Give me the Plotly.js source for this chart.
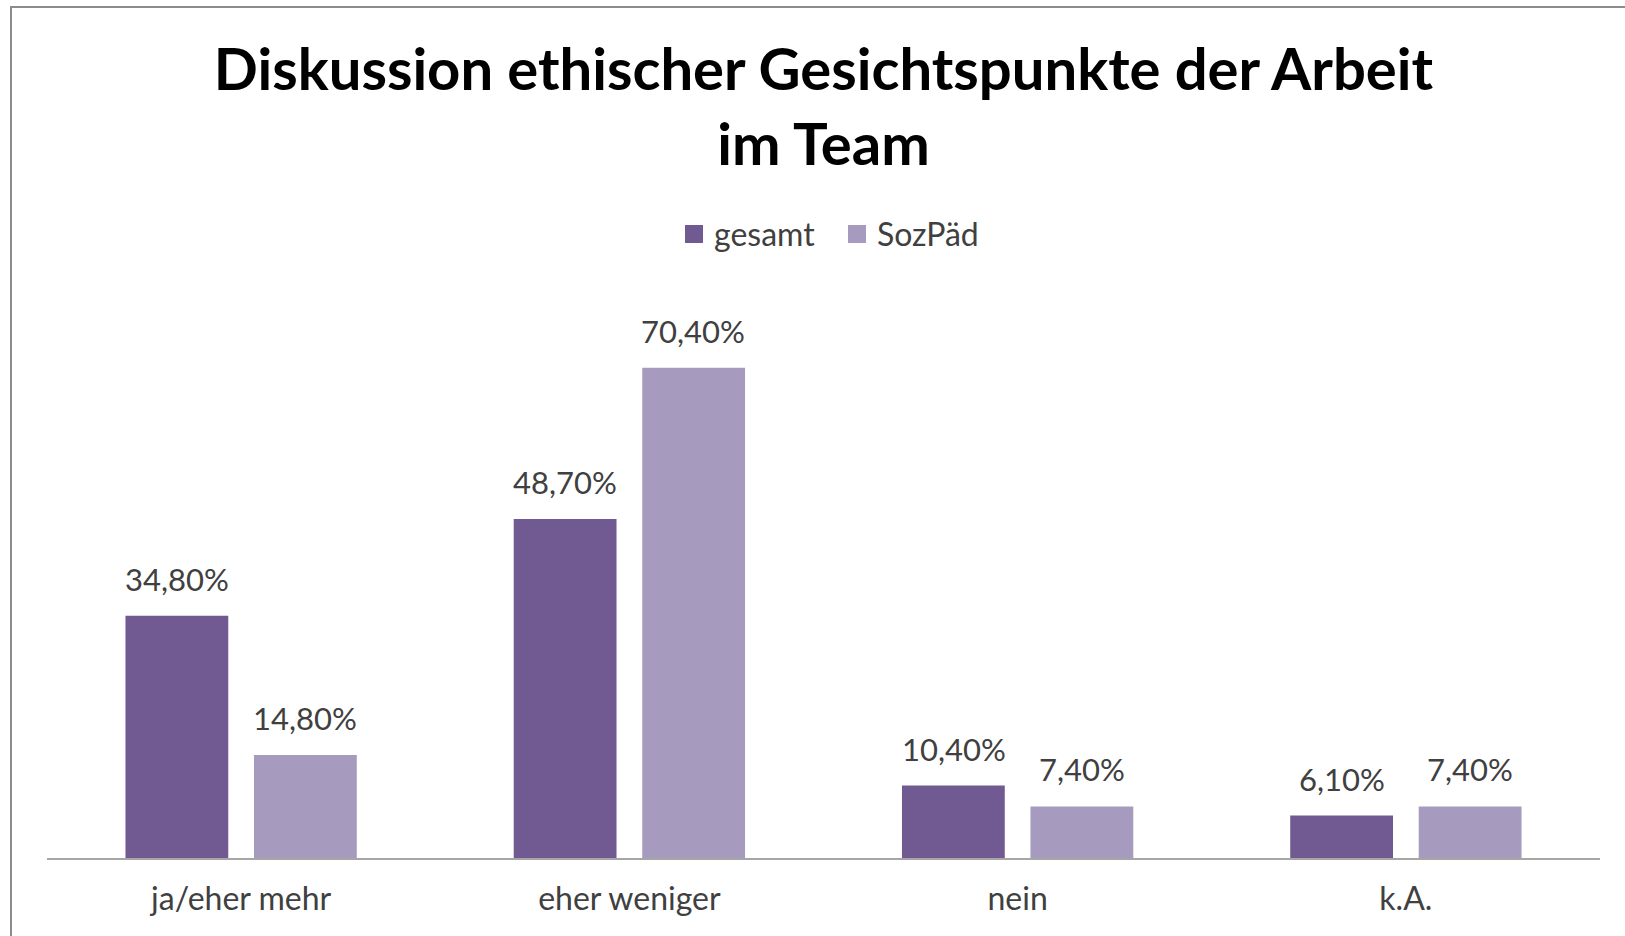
<!DOCTYPE html>
<html>
<head>
<meta charset="utf-8">
<script src="https://cdn.plot.ly/plotly-3.0.1.min.js"></script>
<style>
  html, body { margin: 0; padding: 0; background: #fff; }
  #chart { width: 1625px; height: 936px; }
</style>
</head>
<body>
<div id="chart"></div>
<script>
const categories = ["ja/eher mehr", "eher weniger", "nein", "k.A."];
const gesamt = [34.8, 48.7, 10.4, 6.1];
const sozpaed = [14.8, 70.4, 7.4, 7.4];
const seriesNames = ["gesamt", "SozPäd"];
const titleText = "Diskussion ethischer Gesichtspunkte der Arbeit<br>im Team";

const colors = ["#715a91", "#a69abf"];
const FONT = "Lato, 'Open Sans', sans-serif";

function fmt(v) {
  return v.toFixed(2).replace(".", ",") + "%";
}

const traces = [gesamt, sozpaed].map((vals, i) => ({
  type: "bar",
  name: seriesNames[i],
  x: categories,
  y: vals,
  marker: { color: colors[i] },
  hoverinfo: "x+y"
}));

const annotations = [];
[gesamt, sozpaed].forEach((vals, i) => {
  vals.forEach((v, j) => {
    annotations.push({
      x: categories[j], y: v, xref: "x", yref: "y",
      text: fmt(v), showarrow: false,
      xshift: i === 0 ? -64 : 64,
      yanchor: "bottom", yshift: 16,
      font: { family: FONT, size: 31, color: "#404040" }
    });
  });
});

const layout = {
  width: 1625, height: 936,
  paper_bgcolor: "#ffffff", plot_bgcolor: "#ffffff",
  margin: { l: 47, r: 25, t: 301, b: 78 },
  barmode: "group",
  bargap: 0.338,
  bargroupgap: 0.2,
  title: {
    text: titleText,
    font: { family: FONT, size: 58, color: "#000000", weight: "bold" },
    x: 0.5, xref: "paper", xanchor: "center",
    y: 1 - 90 / 936, yref: "container", yanchor: "middle"
  },
  showlegend: true,
  legend: {
    orientation: "h", x: 0.5087, xanchor: "center", y: 1.12, yanchor: "middle",
    font: { family: FONT, size: 32, color: "#404040" },
    entrywidth: 118, entrywidthmode: "pixels",
    itemclick: false
  },
  xaxis: {
    showline: true, linecolor: "#a6a6a6", linewidth: 2,
    ticks: "", showgrid: false, zeroline: false,
    tickfont: { family: FONT, size: 32, color: "#404040" },
    ticklabelstandoff: 12
  },
  yaxis: {
    range: [0, 80], showgrid: false, zeroline: false,
    showticklabels: false, ticks: "", showline: false
  },
  annotations: annotations,
  shapes: [{
    type: "rect", xref: "paper", yref: "paper",
    x0: (11 - 47) / 1553, x1: (1700 - 47) / 1553,
    y0: (858 - 1000) / 557, y1: (858 - 7) / 557,
    line: { color: "#8c8c8c", width: 2 }, fillcolor: "rgba(0,0,0,0)"
  }]
};

Plotly.newPlot("chart", traces, layout, { displayModeBar: false }).then(() => {
  document.querySelectorAll(".legend .legendpoints path").forEach(p => {
    const old = p.getAttribute("transform") || "";
    p.setAttribute("transform", old + " scale(1.5)");
  });
});
</script>
</body>
</html>
